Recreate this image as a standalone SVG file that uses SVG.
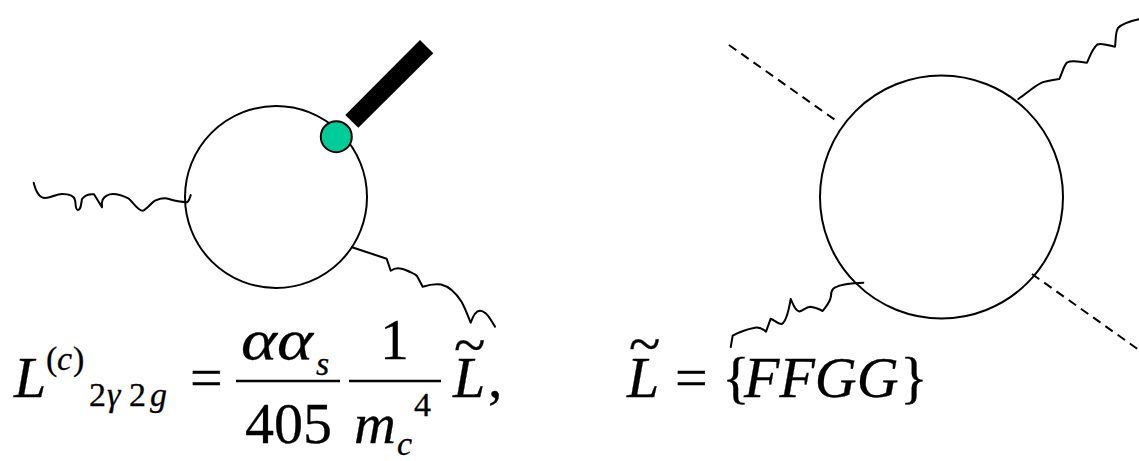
<svg xmlns="http://www.w3.org/2000/svg" width="1139" height="461" viewBox="0 0 1139 461">
<style>
.l{fill:none;stroke:#000;stroke-width:2;stroke-linecap:round;stroke-linejoin:round}
.d{fill:none;stroke:#000;stroke-width:2;stroke-dasharray:9 6}
.c{fill:#fff;stroke:#000;stroke-width:2}
text{font-family:"Liberation Serif","Times New Roman",serif;fill:#000;stroke:#000;stroke-width:.3}
.i{font-style:italic}
.b{font-size:58px}
.s{font-size:34px}
.r{stroke:#000;stroke-width:2.4}
</style>
<rect width="1139" height="461" fill="#fff"/>
<g id="loop-left"><circle class="c" cx="276" cy="197" r="91"/></g>
<g id="loop-right"><circle class="c" cx="941.5" cy="197" r="121.5"/></g>
<g id="connectors">
<path class="l" d="M33.7 182.7C36 192 39 198 45 198C51 198 56 194 62 194C68 194 74 195 75 200C76 204 75 210 78 210C81 210 81 204 82 199C85 195 90 194 94 194.300L102 207.300C101 202 103 197 107 195.500C112 192.500 119 194 128.300 198.300C134 203 138 211 143 210.700C147 209 151 203 155 200.700C160 198.500 164 198 167 198.500C172 200 178 202 187 202.300C189 201 190 198 190.700 195"/>
<path class="l" d="M352 247.300L386.700 258.700L390.700 270.700C396 267 402 268 408 271C412 273 415 274 417 276L422.700 286.700C428 285 435 283.500 441 284.500C450 286.500 456 293 461.700 302C465 308 468 316 470.700 322.700C473 316 476 310.500 480 310.700C486 311 490 318 495 326.700"/>
<path class="l" d="M1018.300 99C1026 94 1033 87 1041.700 82.700C1047 80.500 1054 80 1059.300 79C1062 74 1063 67 1067 62.500C1072 59.500 1080 62 1087 62.700C1090 56 1092 49 1097.300 44.500C1102 42.500 1110 46 1115 46.700C1116 41 1115 33 1118 28C1123 23 1131 21 1139 19.300"/>
<path class="l" d="M730.700 347L732.700 335.700C739 332 748 329 755 327.700C760 327 763 329 766 331.700L770.700 318.700C774 320 778 324 781.700 324C786 322 789 309 790.700 299C793 304 795 311 799.300 311.500C803 311 806 307 810 306.700C815 307 819 309 822.700 311C826 306 830 303 831 296C831 291 832 289 835 287.500C842 283.500 852 283 863.300 282.700"/>
<path class="d" d="M729 45L838 122"/>
<path class="d" d="M1032 274L1139 350"/>
</g>
<g id="operator">
<polygon points="420,40 433.300,53.300 358.300,127.700 345.300,115" fill="#000"/>
<circle cx="336.300" cy="136.700" r="15.500" fill="#00cc99" stroke="#000" stroke-width="2"/>
</g>
<g id="formula-left">
<text class="b i" x="14" y="397">L</text>
<text class="s" x="46" y="370">(<tspan class="i" x="57">c</tspan><tspan x="73">)</tspan></text>
<text class="s" x="89" y="406">2<tspan class="i" x="107">γ</tspan><tspan x="129">2</tspan><tspan class="i" x="150">g</tspan></text>
<text class="b" x="190" y="397">=</text>
<text class="i b" x="241" y="359" textLength="72" lengthAdjust="spacingAndGlyphs">αα</text>
<text class="i s" x="316" y="375">s</text>
<line class="r" x1="236" y1="381" x2="340" y2="381"/>
<text class="b" x="245" y="443">405</text>
<text class="b" x="380" y="359">1</text>
<line class="r" x1="349" y1="381" x2="441" y2="381"/>
<text class="i b" x="354" y="443">m</text>
<text class="i s" x="397" y="455">c</text>
<text class="s" x="414" y="416">4</text>
<text class="b"><tspan class="i" x="453" y="397">L</tspan><tspan x="454" y="364">~</tspan><tspan x="488" y="397">,</tspan></text>
</g>
<g id="formula-right">
<text class="b"><tspan class="i" x="627" y="397">L</tspan><tspan x="629" y="363">~</tspan></text>
<text class="b" x="675" y="397">=</text>
<text class="b" x="722" y="397">{<tspan class="i" x="744">FFGG</tspan><tspan x="900">}</tspan></text>
</g>
</svg>
